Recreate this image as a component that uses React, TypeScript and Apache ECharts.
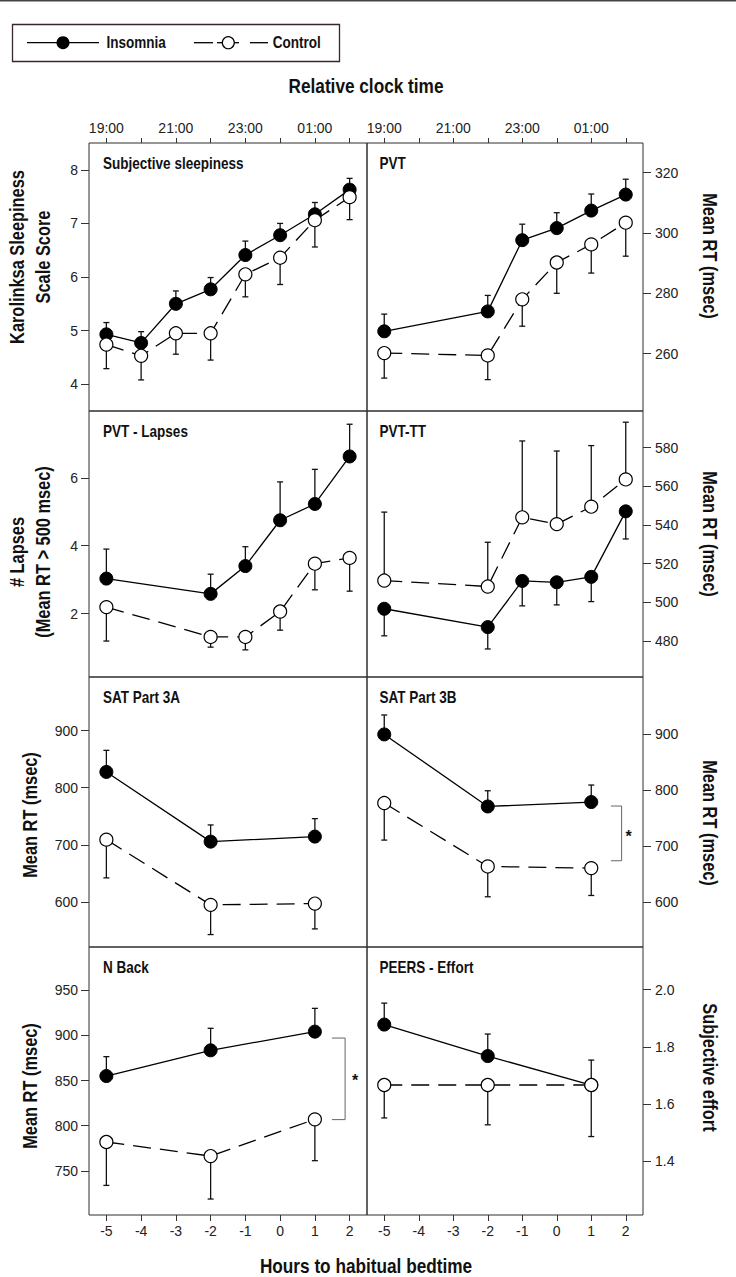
import React, { useEffect, useRef } from "react";
import * as echarts from "echarts";

// ---------- data ----------
const xHours = [-5, -4, -3, -2, -1, 0, 1, 2];
const clockTickValues = [-5, -3, -1, 1];
const clockTickLabels = ["19:00", "21:00", "23:00", "01:00"];

// Subjective sleepiness (KSS)
const kssX = [-5, -4, -3, -2, -1, 0, 1, 2];
const kssInsomnia = [4.93, 4.77, 5.5, 5.77, 6.41, 6.78, 7.17, 7.63];
const kssInsomniaErr = [5.15, 4.98, 5.74, 5.99, 6.67, 7.0, 7.39, 7.84];
const kssControl = [4.74, 4.53, 4.95, 4.95, 6.05, 6.36, 7.06, 7.49];
const kssControlErr = [4.29, 4.08, 4.56, 4.45, 5.63, 5.86, 6.56, 7.07];
const kssTicks = [4, 5, 6, 7, 8];

// PVT mean RT
const pvtX = [-5, -2, -1, 0, 1, 2];
const pvtInsomnia = [267.4, 274.0, 297.6, 301.6, 307.4, 312.7];
const pvtInsomniaErr = [273.1, 279.3, 302.9, 306.7, 312.9, 317.8];
const pvtControl = [260.2, 259.4, 278.0, 290.2, 296.2, 303.4];
const pvtControlErr = [251.9, 251.4, 269.1, 280.0, 286.7, 292.3];
const pvtTicks = [260, 280, 300, 320];

// PVT lapses
const lapsesX = [-5, -2, -1, 0, 1, 2];
const lapsesInsomnia = [3.03, 2.58, 3.4, 4.75, 5.23, 6.63];
const lapsesInsomniaErr = [3.9, 3.16, 3.97, 5.88, 6.25, 7.58];
const lapsesControl = [2.19, 1.31, 1.31, 2.06, 3.47, 3.64];
const lapsesControlErr = [1.19, 1.01, 0.93, 1.51, 2.7, 2.66];
const lapsesTicks = [2, 4, 6];

// PVT-TT
const pvtttX = [-5, -2, -1, 0, 1, 2];
const pvtttInsomnia = [496.6, 487.1, 511.0, 510.3, 513.1, 547.0];
const pvtttInsomniaErr = [482.6, 475.8, 498.1, 498.6, 500.3, 532.7];
const pvtttControl = [511.2, 508.1, 543.9, 540.4, 549.4, 563.5];
const pvtttControlErr = [546.6, 531.0, 583.4, 578.2, 581.0, 593.1];
const pvtttTicks = [480, 500, 520, 540, 560, 580];

// SAT Part 3A
const sat3aX = [-5, -2, 1];
const sat3aInsomnia = [827.7, 705.6, 714.4];
const sat3aInsomniaErr = [865.5, 734.8, 745.9];
const sat3aControl = [709.1, 594.8, 597.1];
const sat3aControlErr = [642.1, 542.8, 552.7];
const sat3aTicks = [600, 700, 800, 900];

// SAT Part 3B
const sat3bX = [-5, -2, 1];
const sat3bInsomnia = [899.3, 770.9, 778.8];
const sat3bInsomniaErr = [933.9, 798.9, 809.1];
const sat3bControl = [777.0, 664.0, 661.1];
const sat3bControlErr = [711.0, 610.0, 612.3];
const sat3bTicks = [600, 700, 800, 900];
// [xFrom, xTo, yTop, yBottom, xStar, yStar]
const sat3bBracket = [1.57, 1.88, 771.7, 674.2, 2.08, 718];

// N Back
const nbackX = [-5, -2, 1];
const nbackInsomnia = [855.0, 883.5, 904.2];
const nbackInsomniaErr = [876.5, 907.9, 930.0];
const nbackControl = [781.9, 766.3, 807.0];
const nbackControlErr = [733.8, 718.7, 761.2];
const nbackTicks = [750, 800, 850, 900, 950];
const nbackBracket = [1.49, 1.87, 897.1, 806.7, 2.16, 850.6];

// PEERS - Effort
const peersX = [-5, -2, 1];
const peersInsomnia = [1.878, 1.768, 1.667];
const peersInsomniaErr = [1.953, 1.845, 1.754];
const peersControl = [1.667, 1.667, 1.667];
const peersControlErr = [1.552, 1.528, 1.487];
const peersTicks = [1.4, 1.6, 1.8, 2.0];

// ---------- layout ----------
const BOLDF = '"Liberation Sans", Arial, sans-serif';
const REG = '"Liberation Sans", Arial, sans-serif';
const NARROW_SCALE = 0.82;
const INK = "#111";
const FRAME = "#2e2e2e";

const colLeft = [89, 367];
const colWidth = [278, 276];
const rowTop = [143, 411, 677, 947];
const rowHeight = [268, 266, 270, 268];

const panels = [
  { title: "Subjective sleepiness", xs: kssX, ins: kssInsomnia, insErr: kssInsomniaErr, ctl: kssControl, ctlErr: kssControlErr, min: 3.5, max: 8.5, ticks: kssTicks, dec: 0, yTitle: "Karolinksa Sleepiness\nScale Score", yTitleY: 257 },
  { title: "PVT", xs: pvtX, ins: pvtInsomnia, insErr: pvtInsomniaErr, ctl: pvtControl, ctlErr: pvtControlErr, min: 241, max: 329.8, ticks: pvtTicks, dec: 0, yTitle: "Mean RT (msec)", yTitleY: 256 },
  { title: "PVT - Lapses", xs: lapsesX, ins: lapsesInsomnia, insErr: lapsesInsomniaErr, ctl: lapsesControl, ctlErr: lapsesControlErr, min: 0.13, max: 7.97, ticks: lapsesTicks, dec: 0, yTitle: "# Lapses\n(Mean RT > 500 msec)", yTitleY: 552 },
  { title: "PVT-TT", xs: pvtttX, ins: pvtttInsomnia, insErr: pvtttInsomniaErr, ctl: pvtttControl, ctlErr: pvtttControlErr, min: 461.3, max: 598.9, ticks: pvtttTicks, dec: 0, yTitle: "Mean RT (msec)", yTitleY: 534 },
  { title: "SAT Part 3A", xs: sat3aX, ins: sat3aInsomnia, insErr: sat3aInsomniaErr, ctl: sat3aControl, ctlErr: sat3aControlErr, min: 521, max: 994, ticks: sat3aTicks, dec: 0, yTitle: "Mean RT (msec)", yTitleY: 815 },
  { title: "SAT Part 3B", xs: sat3bX, ins: sat3bInsomnia, insErr: sat3bInsomniaErr, ctl: sat3bControl, ctlErr: sat3bControlErr, min: 520.5, max: 1001.6, ticks: sat3bTicks, dec: 0, yTitle: "Mean RT (msec)", yTitleY: 823, bracket: sat3bBracket },
  { title: "N Back", xs: nbackX, ins: nbackInsomnia, insErr: nbackInsomniaErr, ctl: nbackControl, ctlErr: nbackControlErr, min: 701, max: 998, ticks: nbackTicks, dec: 0, yTitle: "Mean RT (msec)", yTitleY: 1086, bracket: nbackBracket },
  { title: "PEERS - Effort", xs: peersX, ins: peersInsomnia, insErr: peersInsomniaErr, ctl: peersControl, ctlErr: peersControlErr, min: 1.213, max: 2.149, ticks: peersTicks, dec: 1, yTitle: "Subjective effort", yTitleY: 1067.5 },
];

function errRender(params: any, api: any) {
  const x = api.value(0);
  const p0 = api.coord([x, api.value(1)]);
  const p1 = api.coord([x, api.value(2)]);
  const st = { stroke: INK, lineWidth: 1.3 };
  return {
    type: "group",
    children: [
      { type: "line", shape: { x1: p0[0], y1: p0[1], x2: p1[0], y2: p1[1] }, style: st },
      { type: "line", shape: { x1: p1[0] - 3, y1: p1[1], x2: p1[0] + 3, y2: p1[1] }, style: st },
    ],
  };
}

function bracketRender(params: any, api: any) {
  const xa = api.value(0), xb = api.value(1), yt = api.value(2), yb = api.value(3);
  const a = api.coord([xa, yt]);
  const b = api.coord([xb, yt]);
  const c = api.coord([xb, yb]);
  const d = api.coord([xa, yb]);
  const s = api.coord([api.value(4), api.value(5)]);
  return {
    type: "group",
    children: [
      { type: "polyline", shape: { points: [a, b, c, d] }, style: { stroke: "#666", lineWidth: 1, fill: "none" } },
      {
        type: "text", x: s[0], y: s[1],
        style: { text: "*", fill: INK, fontSize: 16, fontWeight: "bold", fontFamily: REG, align: "center", verticalAlign: "middle", textAlign: "center", textVerticalAlign: "middle" },
      },
    ],
  };
}

function boldText(text: string, x: number, y: number, size: number, align: string, extra: any = {}) {
  return {
    type: "text", x, y, scaleX: NARROW_SCALE, ...extra,
    style: {
      text, fill: INK, fontSize: size, fontWeight: "bold", fontFamily: BOLDF,
      align, verticalAlign: "middle", textAlign: align, textVerticalAlign: "middle",
      ...(extra.lineHeight ? { lineHeight: extra.lineHeight } : {}),
    },
  };
}

function buildOption() {
  const grid: any[] = [];
  const xAxis: any[] = [];
  const yAxis: any[] = [];
  const series: any[] = [];
  const graphics: any[] = [];

  const labelStyle = { fontSize: 14, color: "#222", fontFamily: REG };

  panels.forEach((p, i) => {
    const r = Math.floor(i / 2);
    const c = i % 2;
    grid.push({
      left: colLeft[c], top: rowTop[r], width: colWidth[c], height: rowHeight[r],
      show: true, borderColor: FRAME, borderWidth: 1, backgroundColor: "transparent",
      containLabel: false,
    });
    xAxis.push({
      type: "value", gridIndex: i, min: -5.5, max: 2.5, position: "bottom",
      axisLine: { show: false, onZero: false },
      splitLine: { show: false },
      axisTick: { show: r === 3, customValues: xHours, length: 6, lineStyle: { color: "#333", width: 1 } },
      axisLabel: { show: r === 3, customValues: xHours, margin: 9, ...labelStyle },
    });
    yAxis.push({
      type: "value", gridIndex: i, min: p.min, max: p.max, position: c === 0 ? "left" : "right",
      axisLine: { show: false, onZero: false },
      splitLine: { show: false },
      axisTick: { show: true, customValues: p.ticks, length: 8, lineStyle: { color: "#333", width: 1 } },
      axisLabel: {
        customValues: p.ticks, margin: c === 0 ? 11 : 12, ...labelStyle,
        formatter: (v: number) => (p.dec ? v.toFixed(p.dec) : String(Math.round(v))),
      },
    });

    series.push({
      type: "custom", xAxisIndex: i, yAxisIndex: i, z: 1, silent: true,
      renderItem: errRender, encode: { x: 0, y: [1, 2] },
      data: p.xs.map((x, k) => [x, p.ins[k], p.insErr[k]]).concat(p.xs.map((x, k) => [x, p.ctl[k], p.ctlErr[k]])),
    });
    series.push({
      type: "line", name: "Insomnia", xAxisIndex: i, yAxisIndex: i, z: 2,
      data: p.xs.map((x, k) => [x, p.ins[k]]),
      symbol: "circle", symbolSize: 13,
      itemStyle: { color: "#000", borderColor: "#000", borderWidth: 1 },
      lineStyle: { color: "#000", width: 1.3 },
    });
    series.push({
      type: "line", name: "Control", xAxisIndex: i, yAxisIndex: i, z: 3,
      data: p.xs.map((x, k) => [x, p.ctl[k]]),
      symbol: "circle", symbolSize: 13,
      itemStyle: { color: "#fff", borderColor: "#000", borderWidth: 1.2 },
      lineStyle: { color: "#000", width: 1.3, type: [18, 9] },
    });
    if ((p as any).bracket) {
      series.push({
        type: "custom", xAxisIndex: i, yAxisIndex: i, z: 4, silent: true,
        renderItem: bracketRender, encode: { x: [0, 1], y: [2, 3] },
        data: [(p as any).bracket],
      });
    }

    // panel title
    graphics.push(boldText(p.title, colLeft[c] + (c === 0 ? 14 : 12.5), rowTop[r] + 20, 16.5, "left"));
    // y-axis title
    graphics.push(boldText(p.yTitle, c === 0 ? 30 : 710, p.yTitleY, 20, "center", {
      rotation: c === 0 ? Math.PI / 2 : -Math.PI / 2, lineHeight: 26,
    }));
  });

  // top clock-time axes
  [0, 1].forEach((c) => {
    xAxis.push({
      type: "value", gridIndex: c, min: -5.5, max: 2.5, position: "top",
      axisLine: { show: false, onZero: false },
      splitLine: { show: false },
      axisTick: { show: true, customValues: xHours, length: 5, lineStyle: { color: "#333", width: 1 } },
      axisLabel: {
        customValues: clockTickValues, margin: 8, ...labelStyle,
        formatter: (v: number) => clockTickLabels[clockTickValues.indexOf(v)] || "",
      },
    });
  });

  // page top rule
  graphics.push({ type: "rect", shape: { x: 0, y: 0, width: 736, height: 1.5 }, style: { fill: "#444" } });

  // legend
  graphics.push({ type: "rect", shape: { x: 12.5, y: 24.5, width: 327, height: 37 }, style: { fill: "none", stroke: "#3a2626", lineWidth: 1.3 } });
  graphics.push({ type: "line", shape: { x1: 27, y1: 42.7, x2: 99, y2: 42.7 }, style: { stroke: "#000", lineWidth: 1.3 } });
  graphics.push({ type: "circle", shape: { cx: 63, cy: 42.7, r: 6.5 }, style: { fill: "#000" } });
  graphics.push(boldText("Insomnia", 106.5, 42, 16.5, "left"));
  [[194, 213], [217, 222], [234, 239], [250, 268]].forEach((seg) => {
    graphics.push({ type: "line", shape: { x1: seg[0], y1: 42.7, x2: seg[1], y2: 42.7 }, style: { stroke: "#000", lineWidth: 1.3 } });
  });
  graphics.push({ type: "circle", shape: { cx: 228.3, cy: 42.7, r: 6 }, style: { fill: "#fff", stroke: "#000", lineWidth: 1.2 } });
  graphics.push(boldText("Control", 272.7, 42, 16.5, "left"));

  // outer axis titles
  graphics.push(boldText("Relative clock time", 366, 86, 21, "center"));
  graphics.push(boldText("Hours to habitual bedtime", 366, 1266, 21, "center", { lineHeight: 20 }));

  return {
    animation: false,
    backgroundColor: "#fff",
    textStyle: { fontFamily: REG },
    grid, xAxis, yAxis, series,
    graphic: { elements: graphics },
  };
}

export default function App() {
  const ref = useRef<HTMLDivElement>(null);
  useEffect(() => {
    if (!ref.current) return;
    const chart = echarts.init(ref.current, undefined, { renderer: "svg" });
    chart.setOption(buildOption() as any);
    return () => chart.dispose();
  }, []);
  return (
    <div
      ref={ref}
      style={{ position: "absolute", left: 0, top: 0, width: 736, height: 1277, background: "#fff" }}
    />
  );
}
